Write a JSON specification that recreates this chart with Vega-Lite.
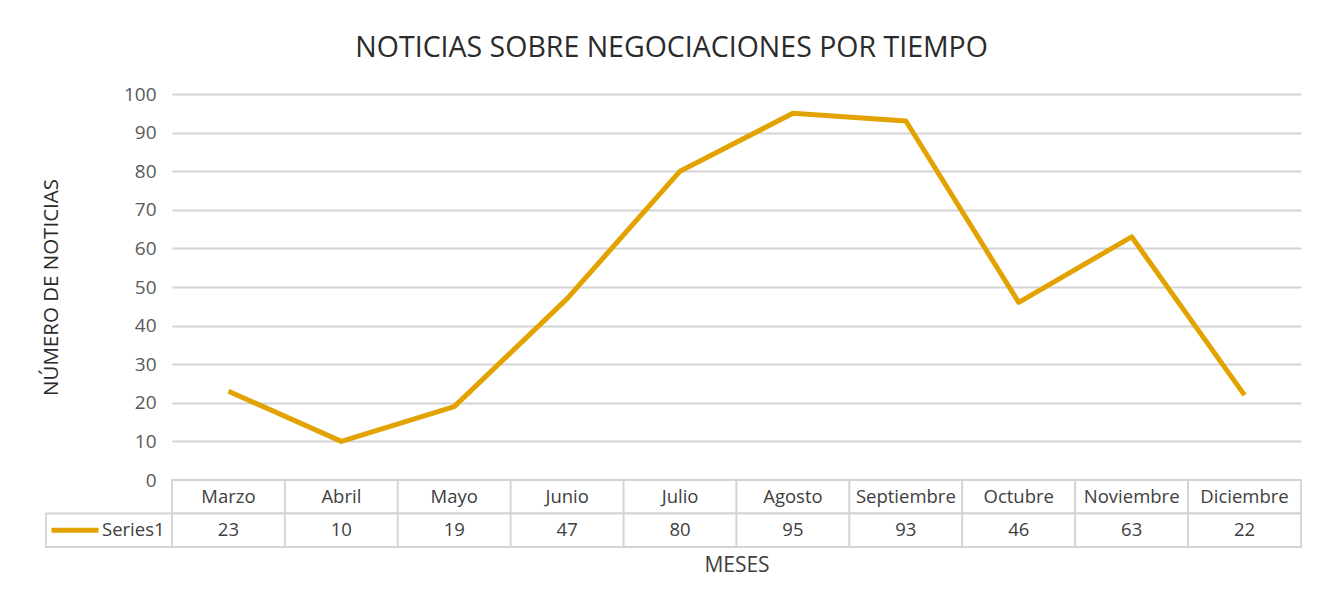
{
  "$schema": "https://vega.github.io/schema/vega-lite/v6.json",
  "autosize": {"type": "pad"},
  "padding": {"left": 41, "top": 33, "right": 30, "bottom": 20},
  "background": "white",
  "config": {"view": {"stroke": null}, "font": "Open Sans"},
  "title": {"text": "NOTICIAS SOBRE NEGOCIACIONES POR TIEMPO", "font": "Open Sans", "fontSize": 28.5, "fontWeight": "normal", "color": "#2b2b2b", "anchor": "middle", "offset": 23},
  "datasets": {
    "noticias": [
      {"mes": "Marzo", "noticias": 23},
      {"mes": "Abril", "noticias": 10},
      {"mes": "Mayo", "noticias": 19},
      {"mes": "Junio", "noticias": 47},
      {"mes": "Julio", "noticias": 80},
      {"mes": "Agosto", "noticias": 95},
      {"mes": "Septiembre", "noticias": 93},
      {"mes": "Octubre", "noticias": 46},
      {"mes": "Noviembre", "noticias": 63},
      {"mes": "Diciembre", "noticias": 22}
    ],
    "leyenda": [{"serie": "Series1"}]
  },
  "columns": 2,
  "spacing": 0,
  "align": "each",
  "bounds": "flush",
  "resolve": {"scale": {"x": "independent", "y": "independent"}},
  "concat": [
    {
      "width": 126,
      "height": 386,
      "data": {"values": []},
      "mark": "text",
      "encoding": {}
    },
    {
      "width": 1129,
      "height": 386,
      "data": {"name": "noticias"},
      "mark": {"type": "line", "color": "#E2A200", "strokeWidth": 5, "strokeJoin": "round"},
      "encoding": {
        "x": {"field": "mes", "type": "nominal", "sort": null, "scale": {"type": "band", "paddingInner": 0, "paddingOuter": 0}, "axis": null},
        "y": {
          "field": "noticias", "type": "quantitative",
          "scale": {"domain": [0, 100], "nice": false},
          "axis": {
            "values": [0, 10, 20, 30, 40, 50, 60, 70, 80, 90, 100],
            "title": "NÚMERO DE NOTICIAS",
            "grid": true, "gridColor": "#d4d4d4", "gridWidth": 1.8,
            "domain": false, "ticks": false,
            "labelPadding": 16, "labelFontSize": 19, "labelFont": "Open Sans", "labelColor": "#595959",
            "titleFontSize": 20.5, "titleFont": "Open Sans", "titleFontWeight": "normal", "titleColor": "#2b2b2b", "titlePadding": 62
          }
        }
      }
    },
    {
      "width": 126,
      "height": 67,
      "data": {"name": "leyenda"},
      "encoding": {
        "y": {"field": "serie", "type": "nominal", "scale": {"domain": ["Mes", "Series1"], "paddingInner": 0, "paddingOuter": 0}, "axis": null}
      },
      "layer": [
        {"mark": {"type": "rect", "fill": "white", "stroke": "#d4d4d4", "strokeWidth": 1.8}},
        {
          "mark": {"type": "tick", "orient": "horizontal", "color": "#E2A200", "opacity": 1, "thickness": 5, "size": 47, "xOffset": -34},
          "encoding": {"x": {"field": "serie", "type": "nominal", "scale": {"paddingInner": 0, "paddingOuter": 0}, "axis": null}}
        },
        {
          "mark": {"type": "text", "align": "left", "dx": -7, "font": "Open Sans", "fontSize": 18.5, "color": "#404040"},
          "encoding": {"x": {"field": "serie", "type": "nominal", "axis": null}, "text": {"field": "serie"}}
        }
      ]
    },
    {
      "width": 1129,
      "height": 67,
      "data": {"name": "noticias"},
      "encoding": {
        "x": {
          "field": "mes", "type": "nominal", "sort": null,
          "scale": {"type": "band", "paddingInner": 0, "paddingOuter": 0},
          "axis": {"title": "MESES", "labels": false, "ticks": false, "domain": false, "titleFontSize": 21, "titleFont": "Open Sans", "titleFontWeight": "normal", "titleColor": "#404040", "titlePadding": 7}
        }
      },
      "layer": [
        {
          "mark": {"type": "rect", "fill": "white", "stroke": "#d4d4d4", "strokeWidth": 1.8},
          "encoding": {"y": {"datum": "Mes", "type": "nominal", "scale": {"domain": ["Mes", "Series1"], "paddingInner": 0, "paddingOuter": 0}, "axis": null}}
        },
        {
          "mark": {"type": "rect", "fill": "white", "stroke": "#d4d4d4", "strokeWidth": 1.8},
          "encoding": {"y": {"datum": "Series1", "type": "nominal"}}
        },
        {
          "mark": {"type": "text", "font": "Open Sans", "fontSize": 18.5, "color": "#404040"},
          "encoding": {"y": {"datum": "Mes", "type": "nominal"}, "text": {"field": "mes"}}
        },
        {
          "mark": {"type": "text", "font": "Open Sans", "fontSize": 18.5, "color": "#404040"},
          "encoding": {"y": {"datum": "Series1", "type": "nominal"}, "text": {"field": "noticias", "type": "quantitative"}}
        }
      ]
    }
  ]
}
